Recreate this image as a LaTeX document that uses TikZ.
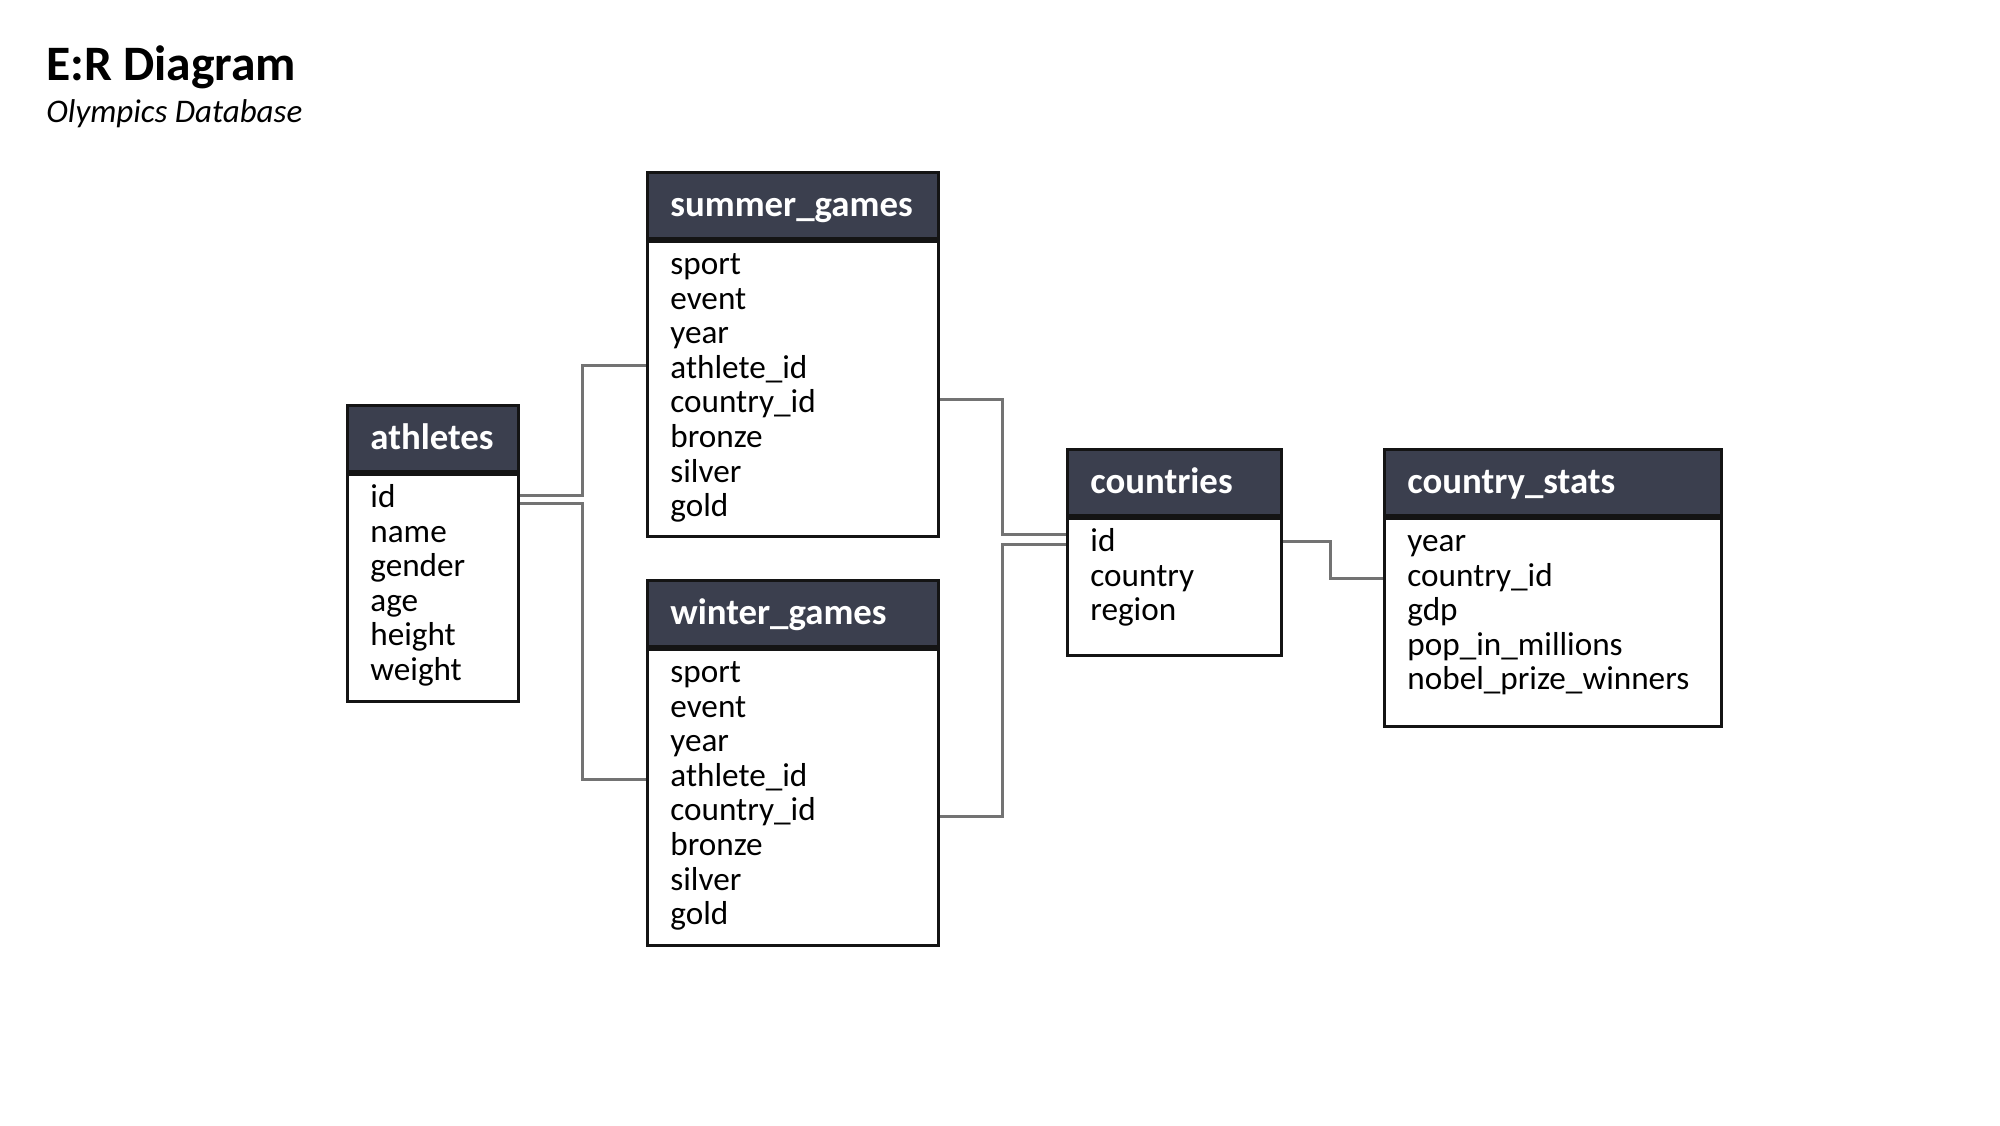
\documentclass[tikz,border=0pt]{standalone}
\usepackage{fontspec}
\setmainfont{Carlito}
\usetikzlibrary{calc}
\definecolor{hdrfill}{RGB}{59,63,78}
\definecolor{connclr}{RGB}{115,115,115}
\definecolor{edgeclr}{RGB}{20,20,20}
\tikzset{
  hdrbox/.style={draw=edgeclr, line width=1.5pt, fill=hdrfill, rectangle, inner sep=0pt},
  bodybox/.style={draw=edgeclr, line width=1.5pt, fill=white, rectangle, inner sep=0pt},
  hdrtext/.style={text=white, inner sep=0pt, font=\fontsize{18.4pt}{20pt}\selectfont\bfseries},
  fieldtext/.style={text=black, inner sep=0pt, font=\fontsize{16.6pt}{17.3pt}\selectfont},
  conn/.style={draw=connclr, line width=1.5pt},
}
\newcommand{\ertable}[7]{%
  \node[hdrbox, anchor=north west, minimum width={(#4-#2)*0.5pt}, minimum height={66*0.5pt}] (#1h) at (#2,#3) {};
  \node[bodybox, anchor=north west, minimum width={(#4-#2)*0.5pt}, minimum height={(#5-#3-66)*0.5pt}] (#1b) at (#1h.south west) {};
  \draw[line width=1.5pt, draw=edgeclr] (#1h.south west) -- (#1h.south east);
  \node[hdrtext, anchor=base west] (#1t) at ({#2+24},{#3+45}) {#6};
  \foreach \fld [count=\i] in {#7} {
    \node[fieldtext, anchor=base west] (#1-\i) at ({#2+24},{#3+66+37.5+(\i-1)*34.6}) {\fld};
  }
}
\begin{document}
\begin{tikzpicture}[x=0.5pt,y=-0.5pt]
\useasboundingbox (0,0) rectangle (2000,1125);
\fill[white] (0,0) rectangle (2000,1125);
% title
\node[anchor=base west, inner sep=0pt, font=\fontsize{24.8pt}{28pt}\selectfont\bfseries] (title) at (46,80) {E:R Diagram};
\node[anchor=base west, inner sep=0pt, font=\fontsize{16.5pt}{19pt}\selectfont\itshape] (subtitle) at (46,122) {Olympics Database};
% tables
\ertable{at}{346}{404}{517}{697}{athletes}{id,name,gender,age,height,weight}
\ertable{sg}{646}{171}{937}{532}{summer\_games}{sport,event,year,athlete\_id,country\_id,bronze,silver,gold}
\ertable{wg}{646}{579}{937}{941}{winter\_games}{sport,event,year,athlete\_id,country\_id,bronze,silver,gold}
\ertable{co}{1066}{448}{1280}{651}{countries}{id,country,region}
\ertable{cs}{1383}{448}{1720}{722}{country\_stats}{year,country\_id,gdp,pop\_in\_millions,nobel\_prize\_winners}
% connectors
\draw[conn] ($(atb.east |- at-1.mid)+(0,-7.5)$) -- ++(62,0) |- ($(sgb.west |- sg-4.mid)+(0,-8)$);
\draw[conn] ($(atb.east |- at-1.mid)+(0,0.5)$) -- ++(62,0) |- ($(wgb.west |- wg-4.mid)+(0,-2)$);
\draw[conn] ($(sgb.east |- sg-5.mid)+(0,-9)$) -- ++(62,0) |- ($(cob.west |- co-1.mid)+(0,-12)$);
\draw[conn] ($(wgb.east |- wg-5.mid)+(0,0)$) -- ++(62,0) |- ($(cob.west |- co-1.mid)+(0,-2.5)$);
\draw[conn] ($(cob.east |- co-1.mid)+(0,-5.5)$) -- ++(47,0) |- ($(csb.west |- cs-2.mid)+(0,-3)$);
\end{tikzpicture}
\end{document}
